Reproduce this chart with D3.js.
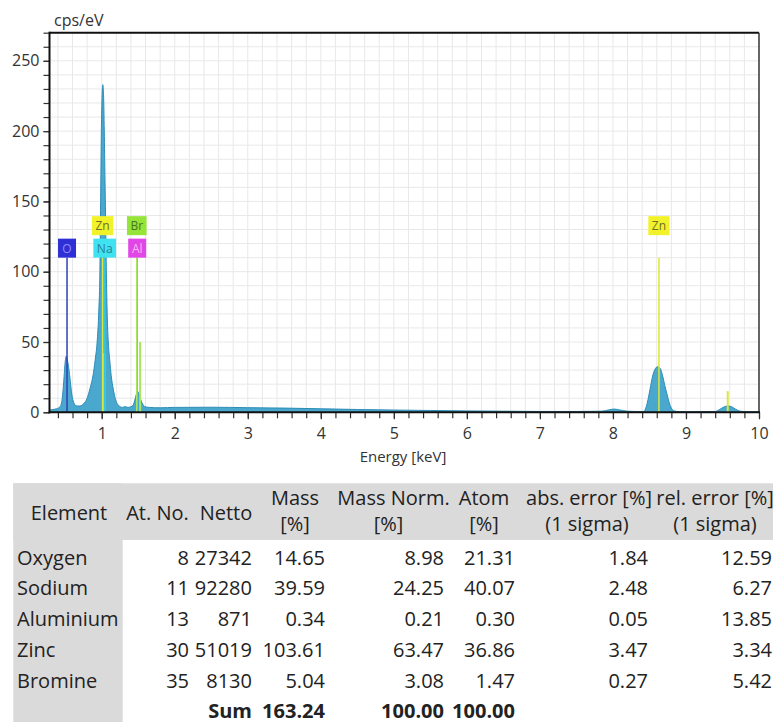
<!DOCTYPE html>
<html>
<head>
<meta charset="utf-8">
<script src="https://cdn.jsdelivr.net/npm/d3@7"></script>
<style>
  body { margin: 0; background: #fff; }
  svg { display: block; font-family: "Open Sans", sans-serif; }
  .tick text { fill: #333; }
</style>
</head>
<body>
<svg id="chart"></svg>
<script>
// spectrum (keV, cps/eV)
const energy = [0.285, 0.33, 0.38, 0.43, 0.46, 0.48, 0.50, 0.515, 0.53, 0.55, 0.57, 0.59, 0.61, 0.64, 0.67,
  0.70, 0.75, 0.80, 0.84, 0.88, 0.91, 0.94, 0.96, 0.975, 0.985, 0.995, 1.005, 1.015, 1.025, 1.035, 1.045,
  1.055, 1.065, 1.075, 1.09, 1.11, 1.13, 1.16, 1.19, 1.23, 1.28, 1.32, 1.36, 1.40, 1.43, 1.46, 1.49, 1.52,
  1.55, 1.59, 1.65, 1.8, 2.0, 2.5, 3.0, 3.5, 4.0, 4.5, 5.0, 5.5, 6.0, 6.5, 7.0, 7.5, 7.85, 7.95, 8.02,
  8.1, 8.2, 8.3, 8.42, 8.45, 8.48, 8.51, 8.54, 8.58, 8.615, 8.65, 8.68, 8.71, 8.74, 8.77, 8.80, 8.84, 8.9,
  9.2, 9.40, 9.46, 9.52, 9.575, 9.63, 9.68, 9.74, 9.85, 10.0];
const counts = [1.5, 2, 2.5, 4, 10, 22, 36, 40, 37, 31, 22, 13, 8, 5, 4.5,
  4.5, 6, 10, 17, 26, 37, 52, 72, 100, 150, 200, 225, 233, 226, 200, 165,
  130, 95, 70, 50, 37, 26, 16, 9, 5, 3.5, 4, 3.5, 4, 5, 10, 15, 11,
  7, 4, 3.5, 3.2, 3.5, 3.6, 3.3, 3, 2.5, 2, 1.6, 1.3, 1, 0.8, 0.6, 0.6, 0.8, 1.8, 2.3,
  1.6, 0.8, 0.6, 0.6, 3, 9, 17, 25, 31, 32.5, 31, 26, 19, 13, 7, 3, 1, 0.5,
  0.5, 0.6, 2, 3.8, 4.5, 3.8, 2.2, 0.8, 0.4, 0.3];

// element markers
const markerEls = ["O", "Na", "Zn", "Al", "Br", "Zn"];
const markerKeV = [0.525, 1.041, 1.012, 1.486, 1.480, 8.630];
const minorEls = ["Zn", "Br", "Zn"];
const minorKeV = [1.035, 1.526, 9.572];
const minorHeight = [42, 50, 15];

const yMajor = [0, 50, 100, 150, 200, 250];
const xMajor = [1, 2, 3, 4, 5, 6, 7, 8, 9, 10];

// quantification table
const elements = ["Oxygen", "Sodium", "Aluminium", "Zinc", "Bromine"];
const atNo = [8, 11, 13, 30, 35];
const netto = [27342, 92280, 871, 51019, 8130];
const mass = ["14.65", "39.59", "0.34", "103.61", "5.04"];
const massNorm = ["8.98", "24.25", "0.21", "63.47", "3.08"];
const atom = ["21.31", "40.07", "0.30", "36.86", "1.47"];
const absErr = ["1.84", "2.48", "0.05", "3.47", "0.27"];
const relErr = ["12.59", "6.27", "13.85", "3.34", "5.42"];
const sums = ["Sum", "163.24", "100.00", "100.00"];

const width = 773, height = 722;
const plot = { left: 49.5, right: 759, top: 32.7, bottom: 412.3 };

const elStyle = {
  O:  { box: "#2f2fd6", text: "#8e8eff", line: "#3040b4", row: 0 },
  Na: { box: "#3fe3ef", text: "#2a7f9a", line: "#35c6dc", row: 0 },
  Zn: { box: "#f2f22a", text: "#6f6f28", line: "#dde63a", row: 1 },
  Al: { box: "#e146e6", text: "#f6b8f6", line: "#e064e0", row: 0 },
  Br: { box: "#96e33a", text: "#46761a", line: "#a8e65c", row: 1 }
};

const svg = d3.select("#chart").attr("width", width).attr("height", height);

const x = d3.scaleLinear().domain([0.285, 10]).range([plot.left, plot.right]);
const y = d3.scaleLinear().domain([0, 270]).range([plot.bottom, plot.top]);

// grid
const g = svg.append("g");
g.append("g").selectAll("line")
  .data(d3.range(0.4, 10, 0.2))
  .join("line")
  .attr("x1", d => x(d)).attr("x2", d => x(d))
  .attr("y1", plot.top).attr("y2", plot.bottom)
  .attr("stroke", "#e8e8e8").attr("stroke-width", 1);
g.append("g").selectAll("line")
  .data(d3.range(10, 270, 10))
  .join("line")
  .attr("x1", plot.left).attr("x2", plot.right)
  .attr("y1", d => y(d)).attr("y2", d => y(d))
  .attr("stroke", "#e8e8e8").attr("stroke-width", 1);

svg.append("clipPath").attr("id", "clip")
  .append("rect")
  .attr("x", plot.left).attr("y", plot.top)
  .attr("width", plot.right - plot.left).attr("height", plot.bottom - plot.top);

// spectrum
const spec = energy.map((e, i) => ({ e, c: counts[i] }));
const area = d3.area()
  .x(d => x(d.e))
  .y0(y(0))
  .y1(d => y(d.c))
  .curve(d3.curveMonotoneX);

g.append("path")
  .datum(spec)
  .attr("clip-path", "url(#clip)")
  .attr("d", area)
  .attr("fill", "#4aa8cf")
  .attr("stroke", "#2d8cb6")
  .attr("stroke-width", 1);

// element lines and labels
const boxH = 19;
const rowBottom = [110, 126];
const markers = markerEls.map((el, i) => ({ el, kev: markerKeV[i] }));
const minors = minorEls.map((el, i) => ({ el, kev: minorKeV[i], h: minorHeight[i] }));

const lines = g.append("g");
lines.selectAll("line.minor")
  .data(minors)
  .join("line")
  .attr("class", "minor")
  .attr("x1", d => x(d.kev)).attr("x2", d => x(d.kev))
  .attr("y1", y(0)).attr("y2", d => y(d.h))
  .attr("stroke", d => elStyle[d.el].line)
  .attr("stroke-width", 2);
lines.selectAll("line.main")
  .data(markers)
  .join("line")
  .attr("class", "main")
  .attr("x1", d => x(d.kev)).attr("x2", d => x(d.kev))
  .attr("y1", y(0)).attr("y2", y(rowBottom[0]))
  .attr("stroke", d => elStyle[d.el].line)
  .attr("stroke-width", 1.5);

const labels = g.append("g").selectAll("g")
  .data(markers)
  .join("g")
  .attr("transform", d => `translate(${x(d.kev)},${y(rowBottom[elStyle[d.el].row]) - boxH})`);
labels.append("rect").attr("class", "box");
labels.append("text")
  .attr("text-anchor", "middle")
  .attr("y", 14)
  .attr("font-size", 12)
  .attr("fill", d => elStyle[d.el].text)
  .text(d => d.el);
labels.each(function (d) {
  const t = d3.select(this).select("text").node().getComputedTextLength();
  const w = Math.max(18, t + 7);
  d3.select(this).select("rect")
    .attr("x", -w / 2).attr("width", w).attr("height", boxH)
    .attr("fill", elStyle[d.el].box);
});

// axes
const yAxis = svg.append("g")
  .attr("transform", `translate(${plot.left},0)`)
  .call(d3.axisLeft(y).tickValues(d3.range(0, 271, 10)).tickSize(6).tickFormat(""));
yAxis.select(".domain").remove();
const yLab = svg.append("g")
  .attr("transform", `translate(${plot.left},0)`)
  .call(d3.axisLeft(y).tickValues(yMajor).tickSize(6).tickPadding(4));
yLab.select(".domain").remove();
yLab.selectAll("text").attr("font-size", 16).attr("font-family", "Open Sans");

const xAxis = svg.append("g")
  .attr("transform", `translate(0,${plot.bottom})`)
  .call(d3.axisBottom(x).tickValues(d3.range(0.4, 10.01, 0.2)).tickSize(6).tickFormat(""));
xAxis.select(".domain").remove();
const xLab = svg.append("g")
  .attr("transform", `translate(0,${plot.bottom})`)
  .call(d3.axisBottom(x).tickValues(xMajor).tickSize(7).tickPadding(8));
xLab.select(".domain").remove();
xLab.selectAll("text").attr("font-size", 16).attr("font-family", "Open Sans");
svg.selectAll(".tick line").attr("stroke", "#333").attr("stroke-width", 1.2);

// frame
svg.append("line").attr("x1", plot.left).attr("x2", plot.right)
  .attr("y1", plot.top).attr("y2", plot.top).attr("stroke", "#111").attr("stroke-width", 2);
svg.append("line").attr("x1", plot.right).attr("x2", plot.right)
  .attr("y1", plot.top).attr("y2", plot.bottom).attr("stroke", "#333").attr("stroke-width", 1.5);
svg.append("line").attr("x1", plot.left).attr("x2", plot.left)
  .attr("y1", plot.top - 1).attr("y2", plot.bottom + 1).attr("stroke", "#111").attr("stroke-width", 2);
svg.append("line").attr("x1", plot.left - 1).attr("x2", plot.right + 1)
  .attr("y1", plot.bottom).attr("y2", plot.bottom).attr("stroke", "#111").attr("stroke-width", 2);

svg.append("text").attr("x", 54).attr("y", 26)
  .attr("font-size", 16).attr("fill", "#333").text("cps/eV");
svg.append("text").attr("x", 403).attr("y", 462)
  .attr("text-anchor", "middle").attr("font-size", 15).attr("fill", "#333").text("Energy [keV]");

// table
const tbl = svg.append("g").attr("font-size", 20).attr("fill", "#222");
const tblTop = 483.3, headBottom = 540, colLeft = 13.3, colRight = 122.7;
tbl.append("rect").attr("x", colLeft).attr("y", tblTop)
  .attr("width", width - colLeft).attr("height", headBottom - tblTop).attr("fill", "#dadada");
tbl.append("rect").attr("x", colLeft).attr("y", tblTop)
  .attr("width", colRight - colLeft).attr("height", height - tblTop).attr("fill", "#dadada");

const headers = [
  { lines: ["Element"], cx: 69 },
  { lines: ["At. No."], cx: 157.5 },
  { lines: ["Netto"], cx: 226 },
  { lines: ["Mass", "[%]"], cx: 295 },
  { lines: ["Mass Norm.", "[%]"], cx: [393.5, 388.5] },
  { lines: ["Atom", "[%]"], cx: 484 },
  { lines: ["abs. error [%]", "(1 sigma)"], cx: [589, 587] },
  { lines: ["rel. error [%]", "(1 sigma)"], cx: 715 }
];
headers.forEach(h => {
  const ys = h.lines.length === 1 ? [520] : [505, 531];
  h.lines.forEach((t, i) => {
    tbl.append("text")
      .attr("x", Array.isArray(h.cx) ? h.cx[i] : h.cx)
      .attr("y", ys[i])
      .attr("text-anchor", "middle")
      .text(t);
  });
});

const rowY = i => 564.5 + i * 30.8;
const numCols = [
  { vals: atNo, right: 189 },
  { vals: netto, right: 252 },
  { vals: mass, right: 325 },
  { vals: massNorm, right: 444 },
  { vals: atom, right: 515 },
  { vals: absErr, right: 648 },
  { vals: relErr, right: 772 }
];
tbl.append("g").selectAll("text")
  .data(elements)
  .join("text")
  .attr("x", 17).attr("y", (d, i) => rowY(i))
  .text(d => d);
numCols.forEach(col => {
  tbl.append("g").selectAll("text")
    .data(col.vals)
    .join("text")
    .attr("x", col.right).attr("y", (d, i) => rowY(i))
    .attr("text-anchor", "end")
    .text(d => d);
});
const sumRight = [252, 325, 444, 515];
tbl.append("g").selectAll("text")
  .data(sums)
  .join("text")
  .attr("x", (d, i) => sumRight[i]).attr("y", rowY(5) - 1)
  .attr("text-anchor", "end")
  .attr("font-weight", "bold")
  .text(d => d);
</script>
</body>
</html>
